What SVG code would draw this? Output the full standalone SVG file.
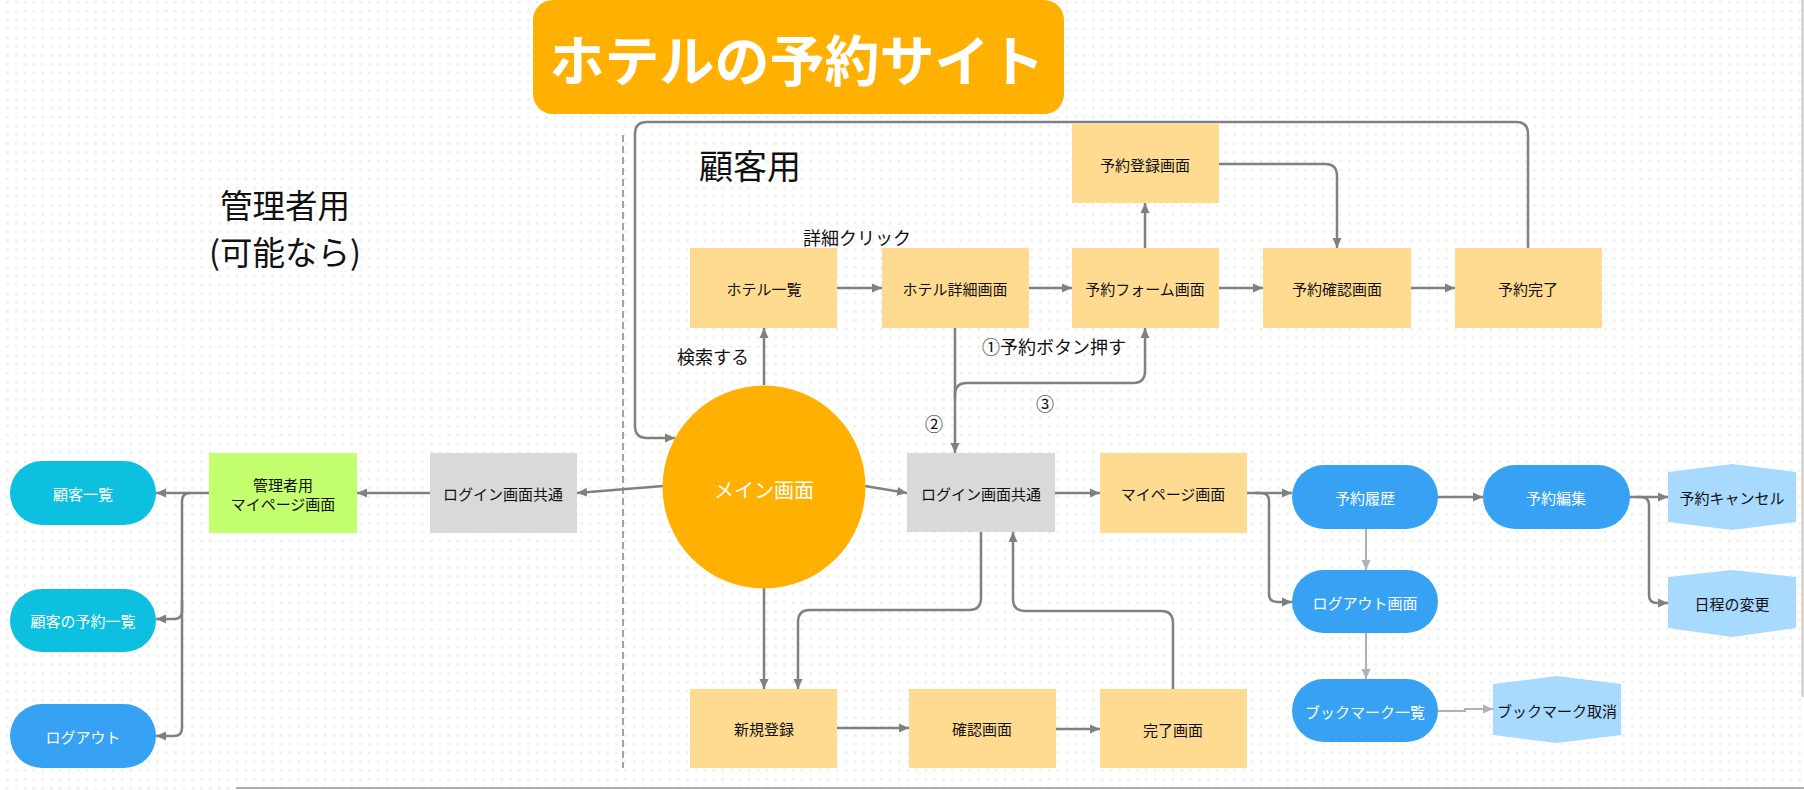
<svg xmlns="http://www.w3.org/2000/svg" width="1804" height="790" viewBox="0 0 1804 790">
<defs>
<pattern id="dots" x="6" y="1" width="8.83" height="8.83" patternUnits="userSpaceOnUse">
<rect x="0" y="0" width="2.6" height="2.6" fill="#efefef"/>
</pattern>
<marker id="arr" markerUnits="userSpaceOnUse" markerWidth="11" markerHeight="10" refX="10" refY="5" orient="auto">
<path d="M0,0.5 L10,5 L0,9.5 z" fill="#808080"/>
</marker>
<marker id="arrL" markerUnits="userSpaceOnUse" markerWidth="11" markerHeight="10" refX="10" refY="5" orient="auto">
<path d="M0,0.5 L10,5 L0,9.5 z" fill="#aab3bb"/>
</marker>
</defs>
<style>
text{font-family:"Noto Sans CJK JP","Noto Sans",sans-serif;text-anchor:middle;dominant-baseline:central;}
.t{font-size:15px;fill:#111;}
.w{font-size:15px;fill:#fff;}
.lbl{font-size:18px;fill:#111;}
.yel{fill:#fedb90;}
.gry{fill:#d9d9d9;}
.blu{fill:#37a2f4;}
.cyn{fill:#0dc0e0;}
.lbl2{fill:#a8d9ff;}
.c{fill:none;stroke:#808080;stroke-width:2.5;marker-end:url(#arr);}
.cl{fill:none;stroke:#aab3bb;stroke-width:2;marker-end:url(#arrL);}
</style>
<rect width="1804" height="790" fill="#ffffff"/>
<rect width="1804" height="790" fill="url(#dots)"/>
<line x1="236" y1="788" x2="1804" y2="788" stroke="#b0b0b0" stroke-width="2"/>
<line x1="1802.5" y1="0" x2="1802.5" y2="697" stroke="#c8c8c8" stroke-width="2"/>

<g id="title">
<rect x="533" y="0" width="531" height="114" rx="20" fill="#ffb000"/>
<text x="797" y="57" style="font-size:55px;font-weight:bold;fill:#fff;">ホテルの予約サイト</text>
</g>
<g id="section-labels">
<line x1="623" y1="135" x2="623" y2="768" stroke="#999" stroke-width="1.8" stroke-dasharray="7,4"/>
<text x="750" y="164" style="font-size:34px;fill:#111;">顧客用</text>
<text x="285" y="203" style="font-size:32.5px;fill:#111;">管理者用</text>
<text x="285" y="250" style="font-size:32.5px;fill:#111;">(可能なら)</text>
</g>

<g id="connectors">
<path class="c" d="M764,385 V328"/>
<path class="c" d="M837,288 H882"/>
<path class="c" d="M1029,288 H1072"/>
<path class="c" d="M1219,288 H1263"/>
<path class="c" d="M1411,288 H1455"/>
<path class="c" d="M1145,248 V203"/>
<path class="c" d="M1219,164 H1325 Q1337,164 1337,176 V248"/>
<path class="c" d="M1528,248 V134 Q1528,122 1516,122 H647 Q635,122 635,134 V426 Q635,438 647,438 H675"/>
<path class="c" d="M955,328 V453"/>
<path class="c" d="M955,398 V395 Q955,383 967,383 H1133 Q1145,383 1145,371 V328"/>
<path class="c" d="M865,486 L907,493"/>
<path class="c" d="M663,486 L577,493"/>
<path class="c" d="M430,493 H357"/>
<path class="c" d="M209,493 H156"/>
<path class="c" d="M190,493 Q182,493 182,501 V611 Q182,619 174,619 H156"/>
<path class="c" d="M182,600 V728 Q182,736 174,736 H156"/>
<path class="c" d="M1055,493 H1100"/>
<path class="c" d="M1247,493 H1292"/>
<path class="c" d="M1255,493 H1261 Q1269,493 1269,501 V594 Q1269,602 1277,602 H1292"/>
<path class="c" d="M1438,497 H1483"/>
<path class="c" d="M1630,497 H1668"/>
<path class="c" d="M1636,497 H1641 Q1649,497 1649,505 V595 Q1649,603 1657,603 H1668"/>
<path class="cl" d="M1366,529 V570"/>
<path class="cl" d="M1366,633 V679"/>
<path class="cl" d="M1438,711 H1465 V709 H1493"/>
<path class="c" d="M764,588 V689"/>
<path class="c" d="M981,532 V598 Q981,610 969,610 H810 Q798,610 798,622 V689"/>
<path class="c" d="M837,728 H909"/>
<path class="c" d="M1056,729 H1100"/>
<path class="c" d="M1173,689 V623 Q1173,611 1161,611 H1025 Q1013,611 1013,599 V532"/>
<text class="lbl" x="857" y="237">詳細クリック</text>
<text class="lbl" x="713" y="356">検索する</text>
<text class="lbl" x="1054" y="346">①予約ボタン押す</text>
<text class="lbl" x="1045" y="403">③</text>
<text class="lbl" x="934" y="423">②</text>
</g>

<g id="hotel-list"><rect class="yel" x="690" y="248" width="147" height="80"/><text class="t" x="764" y="288">ホテル一覧</text></g>
<g id="hotel-detail"><rect class="yel" x="882" y="248" width="147" height="80"/><text class="t" x="955" y="288">ホテル詳細画面</text></g>
<g id="reserve-form"><rect class="yel" x="1072" y="248" width="147" height="80"/><text class="t" x="1145" y="288">予約フォーム画面</text></g>
<g id="reserve-confirm"><rect class="yel" x="1263" y="248" width="148" height="80"/><text class="t" x="1337" y="288">予約確認画面</text></g>
<g id="reserve-done"><rect class="yel" x="1455" y="248" width="147" height="80"/><text class="t" x="1528" y="288">予約完了</text></g>
<g id="reserve-register"><rect class="yel" x="1072" y="124" width="147" height="79"/><text class="t" x="1145" y="164">予約登録画面</text></g>

<g id="main"><circle cx="764" cy="487" r="101.5" fill="#ffb000"/><text x="764" y="489" style="font-size:20px;fill:#fff;">メイン画面</text></g>
<g id="login-right"><rect class="gry" x="907" y="453" width="148" height="79"/><text class="t" x="981" y="493">ログイン画面共通</text></g>
<g id="login-left"><rect class="gry" x="430" y="453" width="147" height="80"/><text class="t" x="503" y="493">ログイン画面共通</text></g>
<g id="admin-mypage"><rect x="209" y="453" width="148" height="80" fill="#c3ff6f"/><text class="t"><tspan x="283" y="484">管理者用</tspan><tspan x="283" y="503">マイページ画面</tspan></text></g>
<g id="customer-list"><rect class="cyn" x="10" y="461" width="146" height="64" rx="32"/><text class="w" x="83" y="493">顧客一覧</text></g>
<g id="customer-reserve-list"><rect class="cyn" x="10" y="589" width="146" height="63" rx="31.5"/><text class="w" x="83" y="620">顧客の予約一覧</text></g>
<g id="admin-logout"><rect class="blu" x="10" y="704" width="146" height="64" rx="32"/><text class="w" x="83" y="736">ログアウト</text></g>

<g id="mypage"><rect class="yel" x="1100" y="453" width="147" height="80"/><text class="t" x="1173" y="493">マイページ画面</text></g>
<g id="history"><rect class="blu" x="1292" y="465" width="146" height="64" rx="32"/><text class="w" x="1365" y="497">予約履歴</text></g>
<g id="edit"><rect class="blu" x="1483" y="465" width="147" height="64" rx="32"/><text class="w" x="1556" y="497">予約編集</text></g>
<g id="cancel"><polygon class="lbl2" points="1668,472 1732,464 1796,472 1796,522 1732,530 1668,522"/><text class="t" x="1732" y="497">予約キャンセル</text></g>
<g id="change-date"><polygon class="lbl2" points="1668,577 1732,570 1796,577 1796,628 1732,637 1668,628"/><text class="t" x="1732" y="603">日程の変更</text></g>
<g id="logout"><rect class="blu" x="1292" y="570" width="146" height="63" rx="31.5"/><text class="w" x="1365" y="602">ログアウト画面</text></g>
<g id="bookmark-list"><rect class="blu" x="1292" y="679" width="146" height="63" rx="31.5"/><text class="w" x="1365" y="711">ブックマーク一覧</text></g>
<g id="bookmark-cancel"><polygon class="lbl2" points="1493,684 1557,676 1621,684 1621,735 1557,743 1493,735"/><text class="t" x="1557" y="710">ブックマーク取消</text></g>

<g id="signup"><rect class="yel" x="690" y="689" width="147" height="79"/><text class="t" x="764" y="728">新規登録</text></g>
<g id="signup-confirm"><rect class="yel" x="909" y="689" width="147" height="79"/><text class="t" x="982" y="728">確認画面</text></g>
<g id="signup-done"><rect class="yel" x="1100" y="689" width="147" height="79"/><text class="t" x="1173" y="729">完了画面</text></g>
</svg>
